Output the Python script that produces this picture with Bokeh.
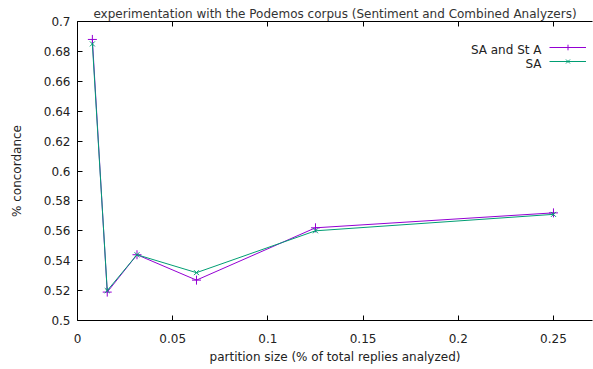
from bokeh.plotting import figure
from bokeh.models import Range1d, FixedTicker, LinearAxis, Legend, LegendItem, Label, Title
from bokeh.embed import file_html
from bokeh.resources import INLINE

partition = [1/128, 1/64, 1/32, 1/16, 1/8, 1/4]
sa_sta = [0.688, 0.519, 0.544, 0.527, 0.562, 0.572]
sa = [0.685, 0.520, 0.544, 0.532, 0.560, 0.571]
x_ticks = [0, 0.05, 0.1, 0.15, 0.2, 0.25]
y_ticks = [0.5, 0.52, 0.54, 0.56, 0.58, 0.6, 0.62, 0.64, 0.66, 0.68, 0.7]
title_text = "experimentation with the Podemos corpus (Sentiment and Combined Analyzers)"
series_names = ["SA and St A", "SA"]

FONT = "DejaVu Sans"
p = figure(width=593, height=369, output_backend="svg", toolbar_location=None,
           x_range=Range1d(0, 0.2705), y_range=Range1d(0.5, 0.7), title=None,
           min_border_left=77, min_border_right=1, min_border_top=21, min_border_bottom=49,
           x_axis_label="partition size (% of total replies analyzed)",
           y_axis_label="% concordance")
p.xgrid.visible = False
p.ygrid.visible = False
p.outline_line_color = None
p.background_fill_color = "white"
p.border_fill_color = "white"

for ax, ticks in ((p.xaxis[0], x_ticks), (p.yaxis[0], y_ticks)):
    ax.ticker = FixedTicker(ticks=ticks)
    ax.major_tick_in = 5
    ax.major_tick_out = 0
    ax.minor_tick_in = 0
    ax.minor_tick_out = 0
    ax.axis_line_color = "black"
    ax.major_tick_line_color = "black"
    ax.major_label_text_font = FONT
    ax.major_label_text_font_size = "12px"
    ax.major_label_text_color = "#222222"
    ax.axis_label_text_font = FONT
    ax.axis_label_text_font_size = "12px"
    ax.axis_label_text_font_style = "normal"
    ax.axis_label_text_color = "#222222"
p.xaxis[0].major_label_standoff = 13
p.xaxis[0].axis_label_standoff = 4
p.yaxis[0].major_label_standoff = 7
p.yaxis[0].axis_label_standoff = 17

top = LinearAxis(ticker=FixedTicker(ticks=x_ticks), major_tick_in=5, major_tick_out=0,
                 minor_tick_in=0, minor_tick_out=0, major_label_text_font_size="1px",
                 major_label_text_alpha=0, major_label_standoff=0,
                 axis_line_color="black", major_tick_line_color="black")
p.add_layout(top, "above")
p.add_layout(Title(text=title_text, text_font=FONT, text_font_size="12px",
                   text_font_style="normal", align="center", text_color="#333333",
                   standoff=2, offset=-4), "above")

purple = "#9400d3"
green = "#009e73"
l1 = p.line(partition, sa_sta, line_color=purple, line_width=1)
m1 = p.scatter(partition, sa_sta, marker="cross", size=9, line_color=purple, line_width=1)
l2 = p.line(partition, sa, line_color=green, line_width=1)
m2 = p.scatter(partition, sa, marker="x", size=7, line_color=green, line_width=1)

legend = Legend(items=[LegendItem(label=" ", renderers=[l1, m1]),
                       LegendItem(label=" ", renderers=[l2, m2])],
                location=(472, 252), border_line_color=None, background_fill_alpha=0,
                glyph_width=37, glyph_height=14, label_width=0, label_height=14,
                label_text_font_size="1px", label_text_alpha=0,
                spacing=0, padding=0, margin=0, label_standoff=0)
p.add_layout(legend, "center")

for txt, yy in zip(series_names, (271, 257)):
    p.add_layout(Label(x=464, y=yy, x_units="screen", y_units="screen", text=txt,
                       text_align="right", text_baseline="middle", text_font=FONT,
                       text_font_size="12px", text_color="#222222"))

open("out.html", "w").write(file_html(p, INLINE))
